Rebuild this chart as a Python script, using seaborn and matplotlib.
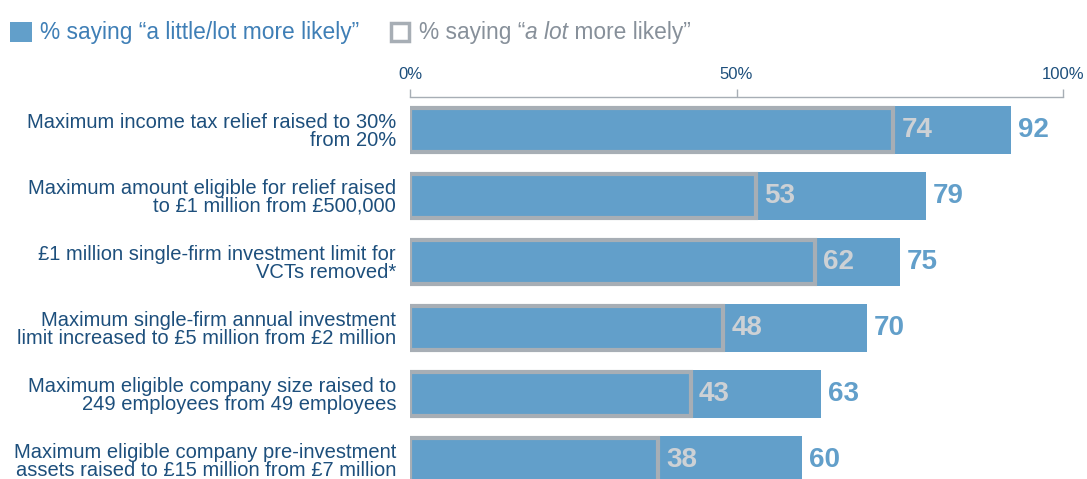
import matplotlib
matplotlib.use("Agg")
import matplotlib.pyplot as plt
import seaborn as sns
import pandas as pd
from matplotlib.patches import Rectangle

categories = [
    "Maximum income tax relief raised to 30%\nfrom 20%",
    "Maximum amount eligible for relief raised\nto £1 million from £500,000",
    "£1 million single-firm investment limit for\nVCTs removed*",
    "Maximum single-firm annual investment\nlimit increased to £5 million from £2 million",
    "Maximum eligible company size raised to\n249 employees from 49 employees",
    "Maximum eligible company pre-investment\nassets raised to £15 million from £7 million",
]
little_or_lot = [92, 79, 75, 70, 63, 60]
a_lot = [74, 53, 62, 48, 43, 38]
tick_values = [0, 50, 100]
tick_labels = ["0%", "50%", "100%"]

BLUE = "#629fca"
GRAY = "#a7aeb5"
LIGHT = "#cdd1d5"
NAVY = "#1d4f7c"
LEG_BLUE = "#3f7fb6"
LEG_GRAY = "#87909a"

sns.set_theme(style="white")
plt.rcParams["font.family"] = ["Liberation Sans", "DejaVu Sans"]

df = pd.DataFrame({"cat": categories, "total": little_or_lot, "lot": a_lot})

fig = plt.figure(figsize=(10.87, 4.79), dpi=100)
ax = fig.add_axes([410 / 1087, 0.0, (1063 - 410) / 1087, 1 - 97 / 479])

sns.barplot(data=df, x="total", y="cat", color=BLUE, orient="h", width=0.727,
            saturation=1, ax=ax, linewidth=0)
sns.barplot(data=df, x="lot", y="cat", color=BLUE, orient="h", width=0.66,
            saturation=1, ax=ax, edgecolor=GRAY, linewidth=3)

for i, (t, l) in enumerate(zip(little_or_lot, a_lot)):
    ax.annotate(str(l), (l, i), xytext=(6, 0), textcoords="offset points",
                va="center", ha="left", color=LIGHT, fontsize=20, fontweight="bold")
    ax.annotate(str(t), (t, i), xytext=(5, 0), textcoords="offset points",
                va="center", ha="left", color=BLUE, fontsize=20, fontweight="bold")

ax.set_xlim(0, 100)
ax.set_ylim(5.288, -0.5)
ax.xaxis.tick_top()
ax.set_xticks(tick_values)
ax.set_xticklabels(tick_labels)
ax.tick_params(axis="x", which="both", top=True, bottom=False, direction="out",
               length=6, width=1, color=GRAY, labelcolor=NAVY, labelsize=12, pad=5)
ax.tick_params(axis="y", left=False, labelcolor=NAVY, labelsize=14.5, pad=4)
for lab in ax.get_yticklabels():
    lab.set_horizontalalignment("right")
    lab.set_linespacing(0.92)
ax.set_xlabel("")
ax.set_ylabel("")
for s in ["left", "right", "bottom"]:
    ax.spines[s].set_visible(False)
ax.spines["top"].set_color(GRAY)
ax.spines["top"].set_linewidth(1)

# legend
fig.add_artist(Rectangle((10 / 1087, 1 - 42 / 479), 22 / 1087, 20 / 479,
                         transform=fig.transFigure, facecolor=BLUE, edgecolor="none"))
fig.add_artist(Rectangle((391 / 1087, 1 - 41 / 479), 18 / 1087, 18 / 479,
                         transform=fig.transFigure, facecolor="white", edgecolor=GRAY,
                         linewidth=2.5))
base_y = 1 - 39 / 479
fig.text(40 / 1087, base_y, "% saying \u201ca little/lot more likely\u201d",
         color=LEG_BLUE, fontsize=16.4, va="baseline", ha="left")
t1 = fig.text(419 / 1087, base_y, "% saying \u201c", color=LEG_GRAY,
              fontsize=16.4, va="baseline", ha="left")
t2 = fig.text(0, base_y, "a lot", color=LEG_GRAY, fontsize=16.4, fontstyle="italic",
              va="baseline", ha="left")
t3 = fig.text(0, base_y, " more likely\u201d", color=LEG_GRAY, fontsize=16.4,
              va="baseline", ha="left")
fig.canvas.draw()
r = fig.canvas.get_renderer()
inv = fig.transFigure.inverted()
bb1 = t1.get_window_extent(r)
t2.set_position((inv.transform((bb1.x1, 0))[0], base_y))
fig.canvas.draw()
bb2 = t2.get_window_extent(r)
t3.set_position((inv.transform((bb2.x1, 0))[0], base_y))

fig.savefig("out.png", dpi=100)
